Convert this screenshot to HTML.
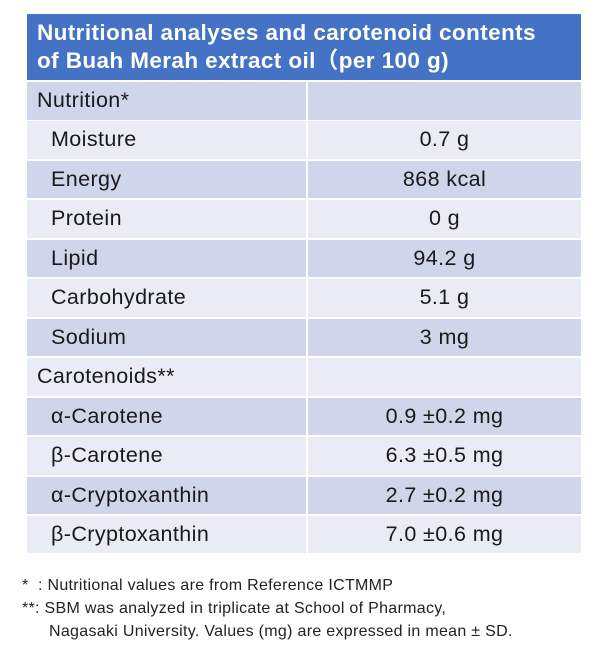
<!DOCTYPE html>
<html><head><meta charset="utf-8"><style>
body{margin:0;width:604px;height:666px;background:#fff;position:relative;overflow:hidden;font-family:"Liberation Sans","Noto Sans CJK JP",sans-serif;}
#hdr{position:absolute;left:27px;top:14px;width:554px;height:66px;background:#4472c4;color:#fff;font-weight:bold;font-size:22.5px;letter-spacing:0.4px;line-height:28px;box-sizing:border-box;padding:5px 0 0 10px;}
.row{position:absolute;left:27px;width:554px;height:37.5px;}
.row .c1,.row .c2{position:absolute;top:0;height:100%;font-size:21.5px;letter-spacing:0.4px;color:#1a1a1a;line-height:37.5px;}
.c1{left:0;width:279px;}
.c2{left:281px;width:273px;text-align:center;}
.d .c1,.d .c2{background:#cfd5ea}
.l .c1,.l .c2{background:#e9ebf5}
.note{position:absolute;font-size:16px;letter-spacing:0.3px;color:#222;left:22px;white-space:nowrap;}
</style></head><body>
<div id="hdr">Nutritional analyses and carotenoid contents<br>of Buah Merah extract oil（per 100 g)</div>
<div id="tbl"></div>
<div class="note" style="top:577px">*&nbsp;&nbsp;: Nutritional values are from Reference ICTMMP</div>
<div class="note" style="top:600px">**: SBM was analyzed in triplicate at School of Pharmacy,</div>
<div class="note" style="top:623px;left:49px">Nagasaki University. Values (mg) are expressed in mean ± SD.</div>
<script>
const labels=["Nutrition*","Moisture","Energy","Protein","Lipid","Carbohydrate","Sodium","Carotenoids**","α-Carotene","β-Carotene","α-Cryptoxanthin","β-Cryptoxanthin"];
const values=["","0.7 g","868 kcal","0 g","94.2 g","5.1 g","3 mg","","0.9 ±0.2 mg","6.3 ±0.5 mg","2.7 ±0.2 mg","7.0 ±0.6 mg"];
const indent=[0,1,1,1,1,1,1,0,1,1,1,1];
const tbl=document.getElementById('tbl');
labels.forEach((lab,i)=>{
  const r=document.createElement('div');
  r.className='row '+(i%2==0?'d':'l');
  r.style.top=(82+i*39.45)+'px';
  
  
  const a=document.createElement('div');a.className='c1';
  a.style.paddingLeft=(indent[i]?24:10)+'px';a.style.boxSizing='border-box';
  a.textContent=lab;
  
  
  const b=document.createElement('div');b.className='c2';b.textContent=values[i];
  
  
  r.appendChild(a);r.appendChild(b);tbl.appendChild(r);
});
</script>
</body></html>
